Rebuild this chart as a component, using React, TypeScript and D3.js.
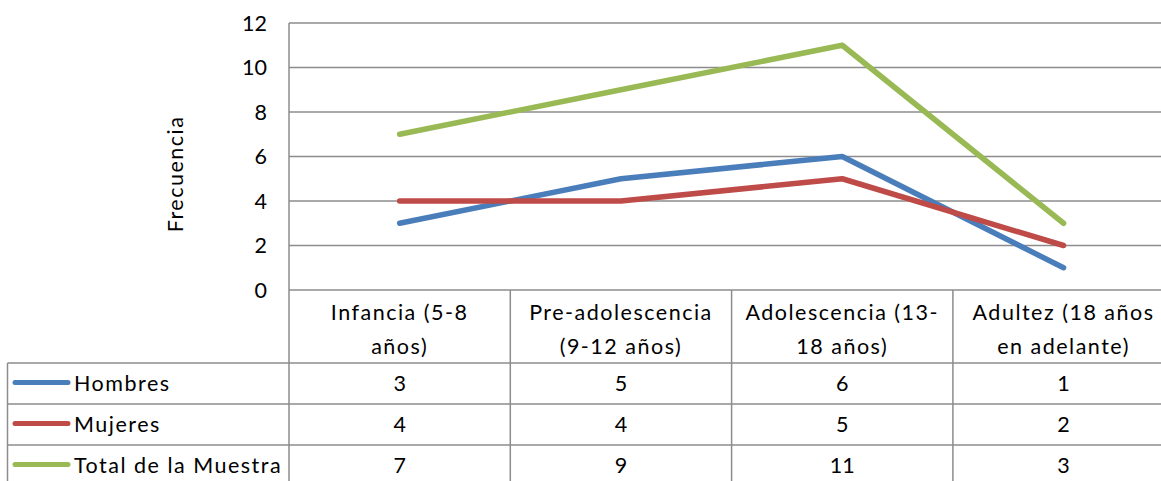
import React from "react";
import * as d3 from "d3";

const categories = [
  ["Infancia (5-8", "años)"],
  ["Pre-adolescencia", "(9-12 años)"],
  ["Adolescencia (13-", "18 años)"],
  ["Adultez (18 años", "en adelante)"],
];
const seriesNames = ["Hombres", "Mujeres", "Total de la Muestra"];
const hombres = [3, 5, 6, 1];
const mujeres = [4, 4, 5, 2];
const total = [7, 9, 11, 3];
const yTicks = [0, 2, 4, 6, 8, 10, 12];
const colors = ["#4a7ebb", "#be4b48", "#98b954"];

const W = 1161;
const H = 481;
const FONT = "Lato, 'Liberation Sans', sans-serif";
const FS = 21.5;
const LS = 1.5;

export default function App() {
  const series = [hombres, mujeres, total];
  const left = 289;
  const colW = 221.3;
  const x = d3
    .scaleBand<number>()
    .domain(d3.range(categories.length))
    .range([left, left + colW * categories.length]);
  const y = d3.scaleLinear().domain([0, 12]).range([290, 23]);
  const line = d3
    .line<number>()
    .x((_, i) => (x(i) as number) + x.bandwidth() / 2)
    .y((d) => y(d));

  const headerTop = 290;
  const rowTops = [363, 404, 445];
  const rowH = 41;
  const tableBottom = 486;
  const grid = "#8c8c8c";

  return (
    <svg
      width={W}
      height={H}
      style={{ position: "absolute", left: 0, top: 0, background: "#fff" }}
      fontFamily={FONT}
    >
      {yTicks.map((t) => (
        <line
          key={t}
          x1={left}
          x2={W + 20}
          y1={y(t)}
          y2={y(t)}
          stroke={grid}
          strokeWidth={1.5}
        />
      ))}
      <line x1={left} x2={left} y1={y(12)} y2={tableBottom} stroke={grid} strokeWidth={1.5} />
      {yTicks.map((t) => (
        <text
          key={t}
          x={267}
          y={y(t)}
          dy="0.35em"
          textAnchor="end"
          fontSize={FS}
          fill="#000"
        >
          {t}
        </text>
      ))}
      <text
        transform={`translate(183,174) rotate(-90)`}
        textAnchor="middle"
        fontSize={FS}
        letterSpacing={LS}
      >
        Frecuencia
      </text>

      {d3.range(1, categories.length + 1).map((i) => (
        <line
          key={i}
          x1={left + colW * i}
          x2={left + colW * i}
          y1={headerTop}
          y2={tableBottom}
          stroke={grid}
          strokeWidth={1.5}
        />
      ))}
      {rowTops.map((r) => (
        <line key={r} x1={7.5} x2={W + 20} y1={r} y2={r} stroke={grid} strokeWidth={1.5} />
      ))}
      <line x1={7.5} x2={7.5} y1={rowTops[0]} y2={tableBottom} stroke={grid} strokeWidth={1.5} />

      {categories.map((c, i) => (
        <text
          key={i}
          x={(x(i) as number) + x.bandwidth() / 2}
          textAnchor="middle"
          fontSize={FS}
          letterSpacing={LS}
        >
          <tspan x={(x(i) as number) + x.bandwidth() / 2} y={320}>
            {c[0]}
          </tspan>
          <tspan x={(x(i) as number) + x.bandwidth() / 2} y={354}>
            {c[1]}
          </tspan>
        </text>
      ))}

      {seriesNames.map((n, k) => {
        const cy = rowTops[k] + rowH / 2;
        return (
          <g key={n}>
            <line
              x1={15}
              x2={68}
              y1={cy - 1}
              y2={cy - 1}
              stroke={colors[k]}
              strokeWidth={5}
              strokeLinecap="round"
            />
            <text x={74} y={cy} dy="0.35em" fontSize={FS} letterSpacing={LS}>
              {n}
            </text>
            {series[k].map((v, i) => (
              <text
                key={i}
                x={(x(i) as number) + x.bandwidth() / 2}
                y={cy}
                dy="0.35em"
                textAnchor="middle"
                fontSize={FS}
              >
                {v}
              </text>
            ))}
          </g>
        );
      })}

      {series.map((s, k) => (
        <path
          key={k}
          d={line(s) as string}
          fill="none"
          stroke={colors[k]}
          strokeWidth={5.5}
          strokeLinecap="round"
          strokeLinejoin="round"
        />
      ))}
    </svg>
  );
}
